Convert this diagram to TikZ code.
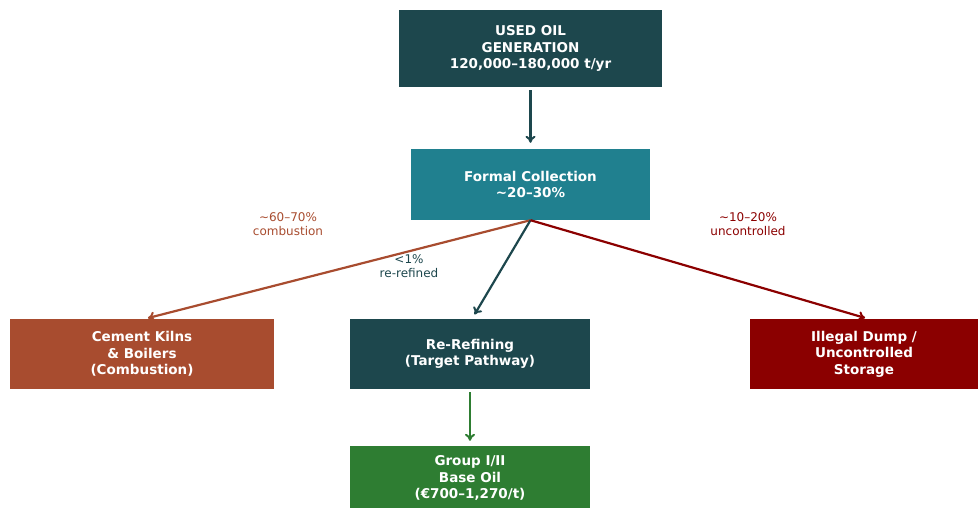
\documentclass[tikz,border=0pt]{standalone}
\usepackage{fontspec}
\setmainfont{DejaVu Sans}
\usetikzlibrary{arrows.meta}
\definecolor{deepteal}{HTML}{1D474D}
\definecolor{midteal}{HTML}{20808F}
\definecolor{rust}{HTML}{A84C2F}
\definecolor{blood}{HTML}{8B0000}
\definecolor{leaf}{HTML}{2E7D32}
\begin{document}
\begin{tikzpicture}[x=1pt,y=-1pt,
  box/.style={rectangle, inner sep=0pt, text=white, align=center,
    font=\fontsize{13.5}{16.5}\selectfont\bfseries},
  tag/.style={align=center, font=\fontsize{12}{13.5}\selectfont},
  flow/.style={line width=2.2pt, -{To[length=7pt,width=10pt,line width=2pt]},
    shorten <=3pt, shorten >=3pt}]
\useasboundingbox (0,0) rectangle (978,508);
% boxes
\node[box, fill=deepteal, minimum width=263pt, minimum height=77pt] (gen) at (530.5,48.5)
  {USED OIL\\GENERATION\\120,000–180,000 t/yr};
\node[box, fill=midteal, minimum width=239pt, minimum height=71pt] (fc) at (530.5,184.5)
  {Formal Collection\\\textasciitilde20–30\%};
\node[box, fill=rust, minimum width=264pt, minimum height=70pt] (cem) at (142,354)
  {Cement Kilns\\\& Boilers\\(Combustion)};
\node[box, fill=deepteal, minimum width=240pt, minimum height=70pt] (rr) at (470,354)
  {Re-Refining\\(Target Pathway)};
\node[box, fill=blood, minimum width=228pt, minimum height=70pt] (dump) at (864,354)
  {Illegal Dump /\\Uncontrolled\\Storage};
\node[box, fill=leaf, minimum width=240pt, minimum height=64pt] (base) at (470,478)
  {Group I/II\\Base Oil\\(€700–1,270/t)};
% connectors
\draw[flow, deepteal, shorten >=6pt] (gen.south) -- (fc.north);
\draw[flow, rust, shorten <=0pt] (fc.south) -- ([xshift=3pt]cem.north);
\draw[flow, deepteal, shorten <=0pt, shorten >=5pt] (fc.south) -- ([xshift=2pt]rr.north);
\draw[flow, blood, shorten <=0pt] (fc.south) -- ([xshift=4pt]dump.north);
\draw[flow, leaf, shorten >=5pt] (rr.south) -- (base.north);
% edge labels
\node[tag, text=rust] (lcem) at (288,224) {\textasciitilde60–70\%\\combustion};
\node[tag, text=deepteal] (lrr) at (409,266) {<1\%\\re-refined};
\node[tag, text=blood] (ldump) at (748,224) {\textasciitilde10–20\%\\uncontrolled};
\end{tikzpicture}
\end{document}
